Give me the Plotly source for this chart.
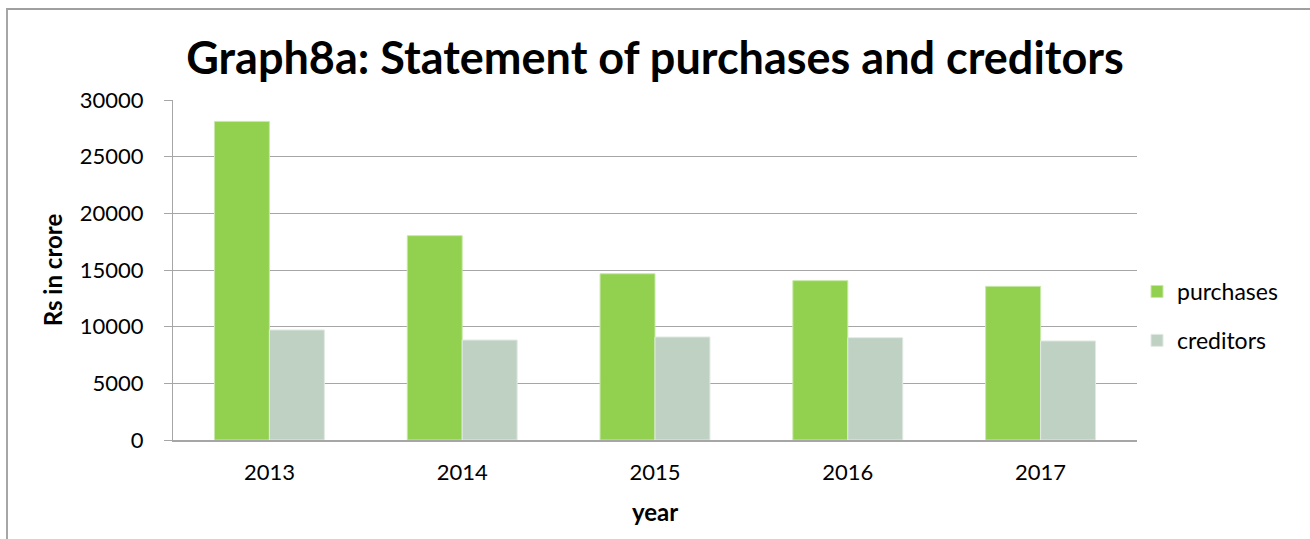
import plotly.graph_objects as go

years = ["2013", "2014", "2015", "2016", "2017"]
purchases = [28110, 18030, 14670, 14060, 13560]
creditors = [9710, 8820, 9090, 9030, 8740]
y_ticks = [0, 5000, 10000, 15000, 20000, 25000, 30000]

W, H = 1310, 539
L, R, T, B = 173, 173, 100, 99
pw, ph = W - L - R, H - T - B

FONT = "Lato"

fig = go.Figure()
fig.add_trace(go.Bar(name="purchases", x=years, y=purchases, legendgroup="p",
                     marker=dict(color="#92D050", line=dict(color="#C8E8A8", width=1))))
fig.add_trace(go.Bar(name="creditors", x=years, y=creditors, legendgroup="c",
                     marker=dict(color="#BED1C3", line=dict(color="#E0EAE3", width=1))))

fig.update_layout(
    width=W, height=H,
    margin=dict(l=L, r=R, t=T, b=B, autoexpand=False),
    paper_bgcolor="white", plot_bgcolor="white",
    barmode="group", bargap=0.43, bargroupgap=0,
    font=dict(family=FONT, color="black", size=22),
    title=dict(text="<b>Graph8a: Statement of purchases and creditors</b>",
               x=0.5, xanchor="center", y=(H - 58) / H, yanchor="middle",
               font=dict(family=FONT, size=45, color="black")),
    legend=dict(x=(1137 - L) / pw, y=(440 - 316) / ph, xanchor="left", yanchor="middle",
                font=dict(family=FONT, size=23), itemwidth=30, tracegroupgap=16,
                bgcolor="rgba(0,0,0,0)"),
    showlegend=True,
)
fig.update_xaxes(showgrid=False, showline=True, linecolor="#A6A6A6", linewidth=2,
                 ticks="", tickfont=dict(family=FONT, size=22), ticklabelstandoff=12,
                 title=dict(text="<b>year</b>", font=dict(family=FONT, size=24), standoff=20))
fig.update_yaxes(range=[0, 30000], tickvals=y_ticks, ticktext=[str(v) for v in y_ticks],
                 showgrid=True, gridcolor="#A6A6A6", gridwidth=1,
                 showline=True, linecolor="#A6A6A6", linewidth=1,
                 ticks="outside", ticklen=8, tickcolor="#A6A6A6",
                 tickfont=dict(family=FONT, size=22), ticklabelstandoff=16,
                 zeroline=False,
                 title=dict(text="<b>Rs in crore</b>", font=dict(family=FONT, size=24), standoff=10))

# outer chart frame (top and left edges visible), drawn as page decoration
frame_js = (
    "document.body.style.margin='0';document.body.style.overflow='hidden';"
    "var f=document.createElement('div');"
    "f.style.cssText='position:absolute;left:6px;top:8px;width:2000px;height:2000px;"
    "border-top:2px solid #A0A0A0;border-left:2px solid #A6A6A6;pointer-events:none;z-index:10;';"
    "document.body.appendChild(f);"
)

fig.write_html("out.html", config={"displayModeBar": False}, post_script=frame_js)
